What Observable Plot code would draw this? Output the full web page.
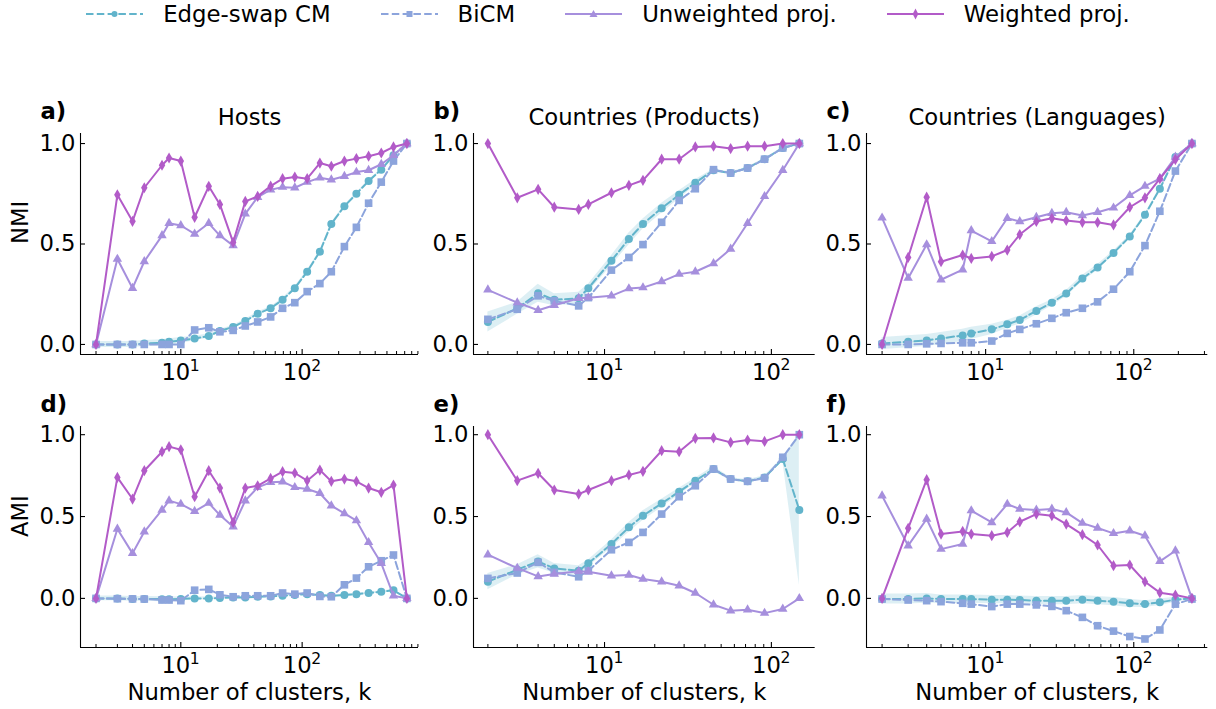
<!DOCTYPE html>
<html><head><meta charset="utf-8">
<script src="https://cdn.jsdelivr.net/npm/d3@7"></script>
<script src="https://cdn.jsdelivr.net/npm/@observablehq/plot@0.6"></script>
<style>
body{margin:0;background:#fff;font-family:"DejaVu Sans",sans-serif;}
#fig{position:relative;width:1216px;height:709px;overflow:hidden;background:#fff}
#legend{position:absolute;left:0;top:0;width:1216px;height:28px;display:flex;justify-content:center;align-items:center;gap:50px;font-size:22.8px;color:#000}
.item{display:flex;align-items:center;white-space:nowrap}
.item svg{margin-right:20px}
.panel{position:absolute}
</style></head><body>
<div id="fig"><div id="legend"></div></div>
<script>
// ---------- data ----------
const seriesNames = ["Edge-swap CM", "BiCM", "Unweighted proj.", "Weighted proj."];
const colors = ["#62b4cb", "#8ca4dc", "#a68fdd", "#b25bc8"];

const kHosts = [2,3,4,5,7,8,10,13,17,21,27,34,43,55,69,87,110,140,174,223,280,353,449,566,730];
const nmiHostsES   = [0,0,0,0.005,0.008,0.013,0.02,0.03,0.042,0.067,0.087,0.117,0.153,0.18,0.222,0.28,0.362,0.462,0.6,0.688,0.75,0.813,0.87,0.942,1.0];
const nmiHostsBiCM = [0,0,0,0,0,0,0,0.072,0.083,0.063,0.07,0.092,0.112,0.137,0.18,0.208,0.263,0.303,0.362,0.487,0.583,0.703,0.808,0.913,1.0];
const nmiHostsUnw  = [0,0.425,0.28,0.413,0.542,0.603,0.592,0.55,0.603,0.542,0.492,0.65,0.733,0.77,0.783,0.78,0.808,0.83,0.82,0.837,0.858,0.867,0.897,0.942,1.0];
const nmiHostsW    = [0,0.745,0.613,0.78,0.892,0.928,0.913,0.633,0.787,0.697,0.508,0.712,0.737,0.788,0.825,0.833,0.825,0.903,0.887,0.913,0.925,0.937,0.953,0.983,1.0];
const nmiHostsSd   = [0.015,0.015,0.015,0.015,0.015,0.015,0.015,0.012,0.01,0.008,0.008,0.008,0.008,0.008,0.008,0.008,0.006,0.006,0.006,0.005,0.005,0.005,0.005,0.004,0.002];
const amiHostsES   = [0,0,-0.003,-0.003,-0.005,-0.005,-0.003,0,0,0.002,0.006,0.006,0.01,0.012,0.016,0.02,0.026,0.02,0.016,0.02,0.026,0.033,0.04,0.05,0];
const amiHostsBiCM = [0,-0.002,-0.003,-0.004,-0.01,-0.01,-0.014,0.05,0.055,0.022,0.01,0.016,0.016,0.016,0.033,0.026,0.033,0.012,0.01,0.083,0.124,0.193,0.23,0.265,0];
const amiHostsUnw  = [0,0.424,0.275,0.407,0.54,0.597,0.576,0.532,0.582,0.509,0.438,0.597,0.678,0.709,0.713,0.678,0.668,0.642,0.566,0.519,0.475,0.342,0.214,0.016,0];
const amiHostsW    = [0,0.739,0.607,0.78,0.896,0.927,0.908,0.621,0.78,0.674,0.464,0.674,0.688,0.733,0.774,0.766,0.719,0.784,0.715,0.729,0.715,0.674,0.648,0.692,0];
const amiHostsSd   = [0.015,0.015,0.015,0.015,0.015,0.015,0.012,0.01,0.008,0.006,0.006,0.005,0.005,0.005,0.005,0.005,0.005,0.005,0.005,0.005,0.005,0.005,0.005,0.005,0.002];

const kProd = [2,3,4,5,7,8,11,14,17,22,28,35,45,57,72,91,117,147];
const nmiProdES   = [0.112,0.18,0.255,0.222,0.23,0.28,0.417,0.525,0.6,0.678,0.745,0.805,0.867,0.853,0.878,0.922,0.978,1.0];
const nmiProdBiCM = [0.125,0.175,0.242,0.217,0.192,0.233,0.37,0.433,0.497,0.608,0.717,0.775,0.87,0.853,0.878,0.922,0.978,1.0];
const nmiProdUnw  = [0.272,0.208,0.17,0.195,0.23,0.233,0.242,0.278,0.283,0.313,0.35,0.362,0.403,0.475,0.603,0.737,0.867,1.0];
const nmiProdW    = [1.0,0.73,0.772,0.683,0.672,0.697,0.755,0.792,0.817,0.922,0.922,0.983,0.987,0.975,0.987,0.987,1.0,1.0];
const nmiProdSd   = [0.05,0.03,0.045,0.03,0.03,0.02,0.025,0.03,0.025,0.025,0.02,0.015,0.006,0.005,0.005,0.005,0.004,0.002];
const amiProdES   = [0.102,0.175,0.226,0.183,0.169,0.214,0.332,0.434,0.505,0.58,0.652,0.719,0.79,0.729,0.715,0.739,0.851,0.54];
const amiProdBiCM = [0.122,0.155,0.22,0.159,0.132,0.169,0.297,0.342,0.403,0.515,0.621,0.688,0.79,0.729,0.715,0.735,0.862,1.0];
const amiProdUnw  = [0.267,0.185,0.134,0.149,0.165,0.163,0.138,0.143,0.118,0.102,0.077,0.033,-0.039,-0.075,-0.069,-0.09,-0.065,0];
const amiProdW    = [1.0,0.719,0.764,0.662,0.637,0.662,0.719,0.754,0.776,0.902,0.896,0.978,0.98,0.953,0.967,0.959,1.0,1.0];
const amiProdSd   = [0.05,0.03,0.04,0.03,0.03,0.02,0.025,0.03,0.03,0.025,0.02,0.015,0.015,0.01,0.01,0.01,0.01,0.46];

const kLang = [2,3,4,5,7,8,11,14,17,22,28,35,45,57,73,94,119,150,191,247];
const nmiLangES   = [0.005,0.013,0.02,0.03,0.045,0.055,0.075,0.1,0.122,0.167,0.208,0.253,0.328,0.383,0.455,0.537,0.645,0.775,0.933,1.0];
const nmiLangBiCM = [0,0,0.003,0.005,0.008,0.008,0.017,0.055,0.075,0.103,0.13,0.158,0.18,0.212,0.275,0.362,0.492,0.663,0.863,1.0];
const nmiLangUnw  = [0.63,0.33,0.497,0.322,0.372,0.567,0.513,0.628,0.612,0.633,0.653,0.658,0.642,0.658,0.68,0.742,0.788,0.825,0.933,1.0];
const nmiLangW    = [0,0.433,0.733,0.412,0.445,0.428,0.438,0.47,0.547,0.612,0.628,0.617,0.608,0.608,0.595,0.683,0.73,0.825,0.92,1.0];
const nmiLangSd   = [0.03,0.03,0.03,0.03,0.03,0.03,0.025,0.02,0.02,0.02,0.015,0.015,0.015,0.015,0.01,0.008,0.006,0.005,0.004,0.002];
const amiLangES   = [-0.004,-0.004,0,-0.004,-0.004,-0.004,-0.008,-0.008,-0.01,-0.014,-0.014,-0.014,-0.008,-0.014,-0.02,-0.03,-0.035,-0.024,-0.008,0];
const amiLangBiCM = [-0.004,-0.01,-0.014,-0.02,-0.03,-0.035,-0.05,-0.035,-0.035,-0.04,-0.049,-0.075,-0.116,-0.167,-0.2,-0.233,-0.248,-0.193,-0.035,-0.004];
const amiLangUnw  = [0.627,0.322,0.485,0.301,0.332,0.536,0.464,0.576,0.546,0.54,0.546,0.525,0.46,0.43,0.397,0.413,0.383,0.226,0.291,0];
const amiLangW    = [0,0.428,0.725,0.393,0.409,0.393,0.383,0.403,0.468,0.515,0.505,0.454,0.389,0.326,0.2,0.204,0.102,0.035,0.02,0];
const amiLangSd   = [0.03,0.03,0.03,0.025,0.025,0.025,0.025,0.025,0.025,0.025,0.025,0.025,0.025,0.025,0.025,0.025,0.02,0.02,0.015,0.005];

const titles = ["Hosts", "Countries (Products)", "Countries (Languages)"];
const panelLabels = [["a)","b)","c)"],["d)","e)","f)"]];
const rowLabels = ["NMI", "AMI"];
const xLabel = "Number of clusters, k";
const yTicks = [0, 0.5, 1.0];
const xDomains = [[1.49, 910], [1.64, 183], [1.57, 316]];
const yDomains = [[-0.05, 1.05], [-0.3, 1.05]];

// ---------- layout ----------
const fig = document.getElementById("fig");
const FS = 22.7;
const frameLeft = [80, 473.3, 866];
const frameW = [338, 341.7, 341.3];
const rowTop = [90, 383];
const rowH = [300, 326];
const MT = 43, FH = 221;

// legend
const legend = document.getElementById("legend");
const dashes = ["7.5,3.3", "7.5,3.3", null, null];
const legendMarker = [
  '<circle cx="28.5" cy="10" r="3" />',
  '<rect x="25.5" y="7" width="6" height="6" />',
  '<path d="M28.5,6 L32.5,13 L24.5,13 Z" />',
  '<path d="M28.5,4.5 L31.3,10 L28.5,15.5 L25.7,10 Z" />'
];
seriesNames.forEach((name, i) => {
  const item = document.createElement("div");
  item.className = "item";
  item.innerHTML = `<svg width="57" height="20"><line x1="0" x2="57" y1="10" y2="10" stroke="${colors[i]}" stroke-width="2" ${dashes[i] ? `stroke-dasharray="${dashes[i]}"` : ""}/><g fill="${colors[i]}">${legendMarker[i]}</g></svg><span>${name}</span>`;
  legend.appendChild(item);
});

function minorTicks([lo, hi]) {
  const out = [];
  for (let e = -1; e <= 4; e++) for (let m = 2; m <= 9; m++) {
    const v = m * Math.pow(10, e);
    if (v >= lo && v <= hi) out.push(v);
  }
  return out;
}
function majorTicks([lo, hi]) {
  const out = [];
  for (let e = -1; e <= 4; e++) { const v = Math.pow(10, e); if (v >= lo && v <= hi) out.push(v); }
  return out;
}

function drawPanel(row, col, k, es, bicm, unw, w, sd) {
  const rows = k.map((kk, i) => ({k: kk, es: es[i], bicm: bicm[i], unw: unw[i], w: w[i], lo: es[i] - sd[i], hi: es[i] + sd[i]}));
  const xd = xDomains[col], yd = yDomains[row];
  const width = frameW[col] + 80 + 9;
  const height = rowH[row];
  const majors = majorTicks(xd), minors = minorTicks(xd);
  const marks = [
    Plot.areaY(rows, {x: "k", y1: "lo", y2: "hi", fill: colors[0], fillOpacity: 0.22}),
    Plot.line(rows, {x: "k", y: "es", stroke: colors[0], strokeWidth: 2, strokeDasharray: dashes[0]}),
    Plot.dot(rows, {x: "k", y: "es", symbol: "circle", r: 4, fill: colors[0]}),
    Plot.line(rows, {x: "k", y: "bicm", stroke: colors[1], strokeWidth: 2, strokeDasharray: dashes[1]}),
    Plot.dot(rows, {x: "k", y: "bicm", symbol: "square", r: 4.3, fill: colors[1]}),
    Plot.line(rows, {x: "k", y: "unw", stroke: colors[2], strokeWidth: 2}),
    Plot.dot(rows, {x: "k", y: "unw", symbol: "triangle", r: 3.5, fill: colors[2]}),
    Plot.line(rows, {x: "k", y: "w", stroke: colors[3], strokeWidth: 2}),
    Plot.dot(rows, {x: "k", y: "w", symbol: "diamond", r: 3.4, fill: colors[3]}),
    Plot.ruleY([yd[0]], {stroke: "black", strokeWidth: 1.1}),
    Plot.ruleX([xd[0]], {stroke: "black", strokeWidth: 1.1}),
    Plot.axisY({ticks: yTicks, tickSize: 0, tickPadding: 5, tickFormat: ".1f", fontSize: FS, label: null}),
    Plot.axisY({ticks: yTicks, tickSize: -5, fill: "none", label: null, strokeWidth: 1.1}),
    Plot.axisX({ticks: majors, tickSize: -5, fill: "none", label: null, strokeWidth: 1.1}),
    Plot.axisX({ticks: minors, tickSize: -3, fill: "none", label: null, strokeWidth: 1}),
    Plot.text(majors, {x: d => d, frameAnchor: "bottom", text: () => "10", dy: 18, dx: -5, fontSize: FS, lineAnchor: "middle"}),
    Plot.text(majors, {x: d => d, frameAnchor: "bottom", text: d => String(Math.round(Math.log10(d))), dy: 11, dx: 9, textAnchor: "start", fontSize: 15.6, lineAnchor: "middle"}),
    Plot.text([panelLabels[row][col]], {text: d => d, frameAnchor: "top-left", dx: -40, dy: -22, textAnchor: "start", fontWeight: "bold", fontSize: FS, lineAnchor: "middle"})
  ];
  if (row === 0) marks.push(Plot.text([titles[col]], {text: d => d, frameAnchor: "top", dy: -16, fontSize: FS, lineAnchor: "middle"}));
  if (row === 1) marks.push(Plot.text([xLabel], {text: d => d, frameAnchor: "bottom", dy: 45, fontSize: FS, lineAnchor: "middle"}));
  if (col === 0) marks.push(Plot.text([rowLabels[row]], {text: d => d, frameAnchor: "left", dx: -60, rotate: -90, fontSize: FS, lineAnchor: "middle"}));
  const svg = Plot.plot({
    width, height,
    marginLeft: 80, marginRight: 9, marginTop: MT, marginBottom: height - MT - FH,
    x: {type: "log", domain: xd},
    y: {domain: yd},
    style: {fontFamily: "DejaVu Sans", fontSize: FS + "px", background: "transparent", overflow: "visible", color: "black"},
    marks
  });
  svg.classList.add("panel");
  svg.style.left = (frameLeft[col] - 80) + "px";
  svg.style.top = rowTop[row] + "px";
  svg.style.position = "absolute";
  fig.appendChild(svg);
}

drawPanel(0, 0, kHosts, nmiHostsES, nmiHostsBiCM, nmiHostsUnw, nmiHostsW, nmiHostsSd);
drawPanel(0, 1, kProd, nmiProdES, nmiProdBiCM, nmiProdUnw, nmiProdW, nmiProdSd);
drawPanel(0, 2, kLang, nmiLangES, nmiLangBiCM, nmiLangUnw, nmiLangW, nmiLangSd);
drawPanel(1, 0, kHosts, amiHostsES, amiHostsBiCM, amiHostsUnw, amiHostsW, amiHostsSd);
drawPanel(1, 1, kProd, amiProdES, amiProdBiCM, amiProdUnw, amiProdW, amiProdSd);
drawPanel(1, 2, kLang, amiLangES, amiLangBiCM, amiLangUnw, amiLangW, amiLangSd);
</script>
</body></html>
